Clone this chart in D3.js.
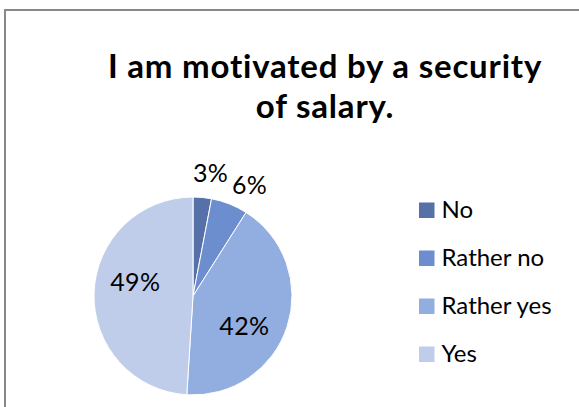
<!DOCTYPE html>
<html>
<head>
<meta charset="utf-8">
<script src="https://cdn.jsdelivr.net/npm/d3@7"></script>
<style>
  html, body { margin: 0; padding: 0; background: #fff; overflow: hidden; }
  svg { display: block; }
</style>
</head>
<body>
<svg id="chart" width="579" height="407"></svg>
<script>
// Survey answers and their shares (percent)
const categories = ["No", "Rather no", "Rather yes", "Yes"];
const values = [3, 6, 42, 49];
const colors = ["#5670a8", "#6c8ece", "#92ade0", "#bfcdea"];
const titleLines = ["I am motivated by a security", "of salary."];

const svg = d3.select("#chart");
const font = "Lato, 'Open Sans', sans-serif";

// chart frame: only its top and left edges fall inside the view
svg.append("path")
  .attr("d", "M5,407V10H579")
  .attr("fill", "none")
  .attr("stroke", "#888").attr("stroke-width", 2);

// title
svg.append("g").selectAll("text")
  .data(titleLines)
  .join("text")
  .attr("x", 325)
  .attr("y", (d, i) => 78 + i * 40)
  .attr("text-anchor", "middle")
  .attr("font-family", font)
  .attr("font-weight", "bold")
  .attr("font-size", 33)
  .attr("letter-spacing", 0.8)
  .attr("fill", "#000")
  .text(d => d);

// pie
const cx = 193, cy = 296, r = 99;
const pie = d3.pie().sort(null).value(d => d)(values);
const arc = d3.arc().innerRadius(0).outerRadius(r);
const color = d3.scaleOrdinal().domain(categories).range(colors);

const g = svg.append("g").attr("transform", `translate(${cx},${cy})`);
g.selectAll("path")
  .data(pie)
  .join("path")
  .attr("d", arc)
  .attr("fill", (d, i) => color(categories[i]))
  .attr("stroke", "#fff")
  .attr("stroke-width", 1);

// data labels: thin slices get theirs outside the rim (nudged apart),
// wide ones inside
const shift = 12 * Math.PI / 180;
function labelPos(d) {
  const outside = d.data < 10;
  const span = d.endAngle - d.startAngle;
  const mid = (d.startAngle + d.endAngle) / 2;
  const rad = outside ? r * 1.26 : r * 0.6;
  const a = outside ? mid + span * 0.25 : mid + shift;
  return [Math.sin(a) * rad, -Math.cos(a) * rad];
}
g.selectAll("text.lbl")
  .data(pie)
  .join("text")
  .attr("class", "lbl")
  .attr("transform", d => `translate(${labelPos(d)})`)
  .attr("text-anchor", "middle")
  .attr("dy", "0.36em")
  .attr("font-family", font)
  .attr("font-size", 25)
  .attr("letter-spacing", 0.4)
  .attr("fill", "#000")
  .text(d => d.data + "%");

// legend
const legend = svg.append("g").attr("transform", "translate(419,0)");
const rows = legend.selectAll("g")
  .data(categories)
  .join("g")
  .attr("transform", (d, i) => `translate(0,${218 + i * 48})`);
rows.append("rect")
  .attr("x", 0).attr("y", -15.5)
  .attr("width", 15.5).attr("height", 15.5)
  .attr("fill", d => color(d));
rows.append("text")
  .attr("x", 22.5)
  .attr("y", 0)
  .attr("font-family", font)
  .attr("font-size", 24)
  .attr("fill", "#000")
  .text(d => d);
</script>
</body>
</html>
